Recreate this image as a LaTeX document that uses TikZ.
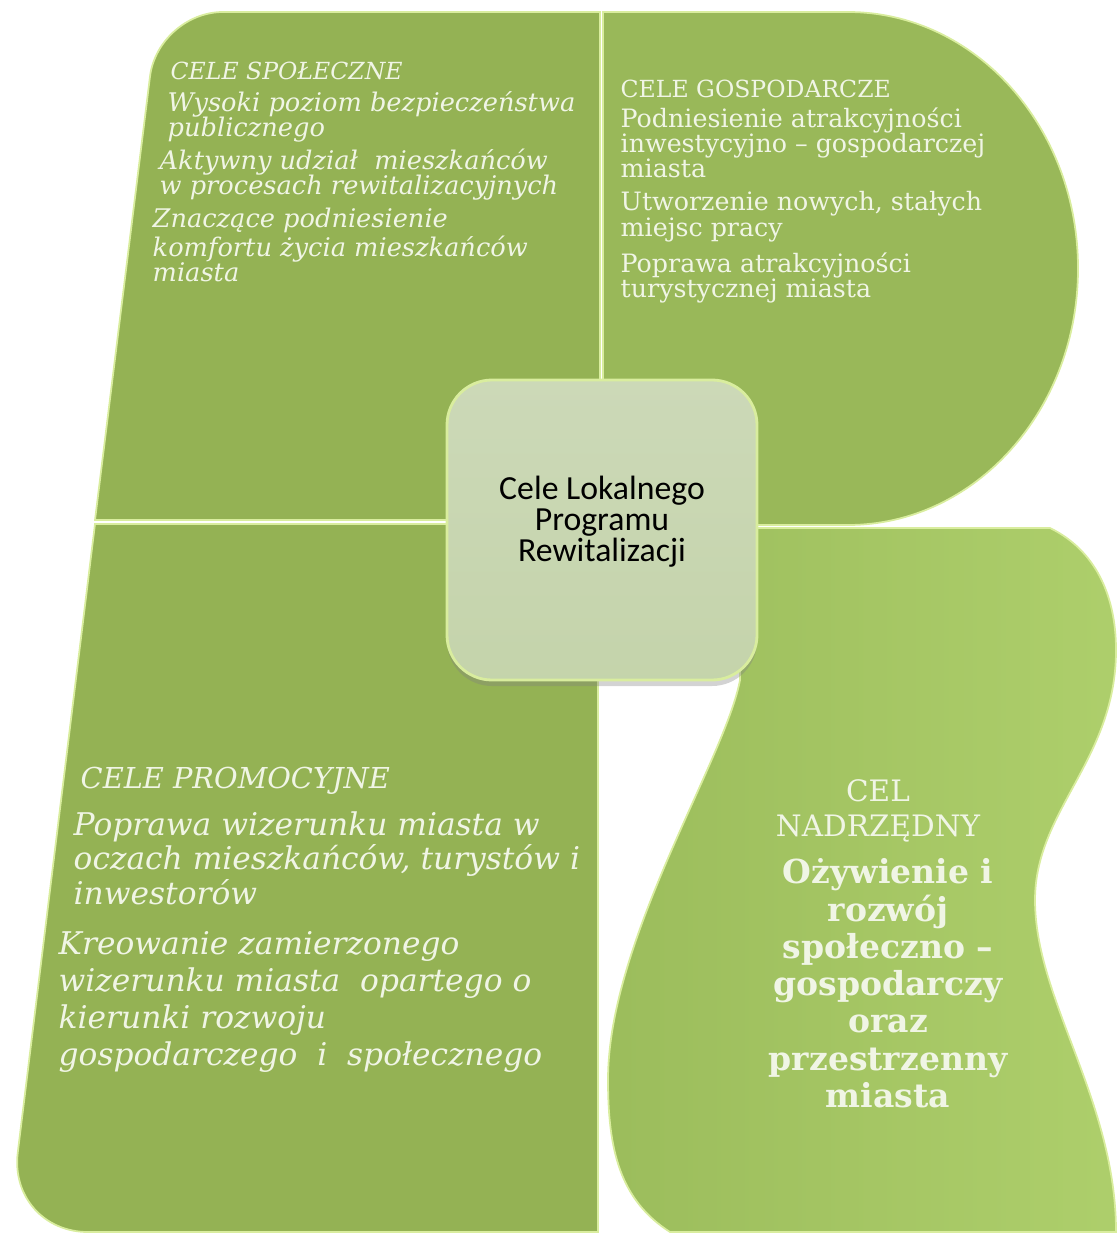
\documentclass[tikz,border=0pt]{standalone}
\usepackage{fontspec}
\setmainfont{DejaVu Serif}
\newfontfamily\boxfont{Carlito}
\usepackage{tkz-euclide}
\usetikzlibrary{calc,shadows}
\definecolor{PanelClr}{rgb}{0.58,0.70,0.33}
\definecolor{BowlClr}{rgb}{0.60,0.72,0.35}
\definecolor{LegLeft}{rgb}{0.61,0.74,0.36}
\definecolor{LegRight}{rgb}{0.68,0.81,0.42}
\definecolor{EdgeClr}{rgb}{0.85,0.93,0.62}
\definecolor{BoxTop}{rgb}{0.80,0.85,0.72}
\definecolor{BoxBot}{rgb}{0.77,0.83,0.67}
\definecolor{TextClr}{rgb}{0.94,0.96,0.90}
\tikzset{
  panel/.style={fill=PanelClr,draw=EdgeClr,line width=.5pt},
  itgoal/.style={anchor=north west,align=left,inner sep=0pt,text=TextClr,
    font=\fontsize{7.3}{7.2}\selectfont\itshape},
  upgoal/.style={anchor=north west,align=left,inner sep=0pt,text=TextClr,
    font=\fontsize{7.2}{7.2}\selectfont},
  bigit/.style={anchor=north west,align=left,inner sep=0pt,text=TextClr,
    font=\fontsize{8.9}{9.8}\selectfont\itshape}
}

\begin{document}
\begin{tikzpicture}
\useasboundingbox (0,0) rectangle (11.18,-12.36);

\tkzDefPoints{1.58/-0.12/A,6.00/-0.12/B,6.00/-5.20/C,0.95/-5.20/D}
\tkzDefPoints{0.95/-5.24/E,5.98/-5.24/F,5.98/-12.32/G,0.08/-12.32/H}
\tkzDefPoints{6.03/-0.12/I,8.48/-0.12/J,8.48/-5.25/K,6.03/-5.25/L}
\tkzDefPoints{7.40/-5.28/M,10.50/-5.28/N,11.16/-6.50/O,10.35/-9.00/P}
\tkzDefPoints{11.16/-12.32/Q,6.70/-12.32/R,6.08/-10.80/S,7.40/-6.80/T}

\path[panel] ($(A)!.5!(B)$) [rounded corners=6.5mm] -- (A)
  [sharp corners] -- (D) -- (C) -- (B) -- cycle;
\path[panel] ($(H)!.5!(G)$) [rounded corners=8mm] -- (H)
  [sharp corners] -- (E) -- (F) -- (G) -- cycle;
\path[panel,fill=BowlClr] (I) -- (J)
  arc[start angle=90,end angle=-90,x radius=2.30,y radius=2.565] -- (L) -- cycle;
\path[panel,left color=LegLeft,right color=LegRight] (M) -- (N)
  .. controls (10.95,-5.50) and (11.16,-5.95) .. (O)
  .. controls (11.16,-7.60) and (10.35,-8.10) .. (P)
  .. controls (10.35,-10.00) and (11.16,-11.00) .. (Q) -- (R)
  .. controls (6.20,-12.00) and (6.08,-11.50) .. (S)
  .. controls (6.08,-9.40) and (7.25,-7.60) .. (T) -- cycle;

\node[itgoal,font=\fontsize{6.7}{7.2}\selectfont\itshape] (spol) at (1.70,-0.61) {CELE SPOŁECZNE};
\node[itgoal] (spolA) at (1.67,-0.91) {Wysoki poziom bezpieczeństwa\\publicznego};
\node[itgoal] (spolB) at (1.59,-1.48) {Aktywny udział\ \ mieszkańców\\w procesach rewitalizacyjnych};
\node[itgoal] (spolC) at (1.52,-2.07) {Znaczące podniesienie\\komfortu życia mieszkańców\\miasta};

\node[upgoal,font=\fontsize{6.7}{7.2}\selectfont] (gosp) at (6.20,-0.79) {CELE GOSPODARCZE};
\node[upgoal] (gospA) at (6.20,-1.07) {Podniesienie atrakcyjności\\inwestycyjno – gospodarczej\\miasta};
\node[upgoal] (gospB) at (6.20,-1.91) {Utworzenie nowych, stałych\\miejsc pracy};
\node[upgoal] (gospC) at (6.20,-2.52) {Poprawa atrakcyjności\\turystycznej miasta};

\node[bigit,font=\fontsize{8.2}{9.8}\selectfont\itshape] (promo) at (0.80,-7.66) {CELE PROMOCYJNE};
\node[bigit] (promoA) at (0.73,-8.11) {Poprawa wizerunku miasta w\\oczach mieszkańców, turystów i\\inwestorów};
\node[bigit,font=\fontsize{8.9}{10.5}\selectfont\itshape] (promoB) at (0.58,-9.31)
  {Kreowanie zamierzonego\\wizerunku miasta\ \ opartego o\\kierunki rozwoju\\gospodarczego\ \ i\ \ społecznego};

\node[anchor=north,align=center,inner sep=0pt,text=TextClr,
  font=\fontsize{8.4}{9.8}\selectfont] (nadrz) at (8.78,-7.79) {CEL\\NADRZĘDNY};
\node[anchor=north,align=center,inner sep=0pt,text=TextClr,
  font=\fontsize{9.4}{10.6}\selectfont\bfseries] (nadrzTxt) at (8.88,-8.58)
  {Ożywienie i\\rozwój\\społeczno –\\gospodarczy\\oraz\\przestrzenny\\miasta};

\node[draw=EdgeClr,line width=.8pt,top color=BoxTop,bottom color=BoxBot,
  rounded corners=4.5mm,minimum width=3.10cm,minimum height=3.00cm,
  drop shadow={opacity=.35,shadow xshift=0mm,shadow yshift=-.6mm}] (lpr) at (6.02,-5.30) {};
\node[align=center,inner sep=0pt,font=\boxfont\fontsize{9.6}{8.8}\selectfont]
  (lprTxt) at ([yshift=.8mm]lpr.center) {Cele Lokalnego\\Programu\\Rewitalizacji};
\end{tikzpicture}
\end{document}
